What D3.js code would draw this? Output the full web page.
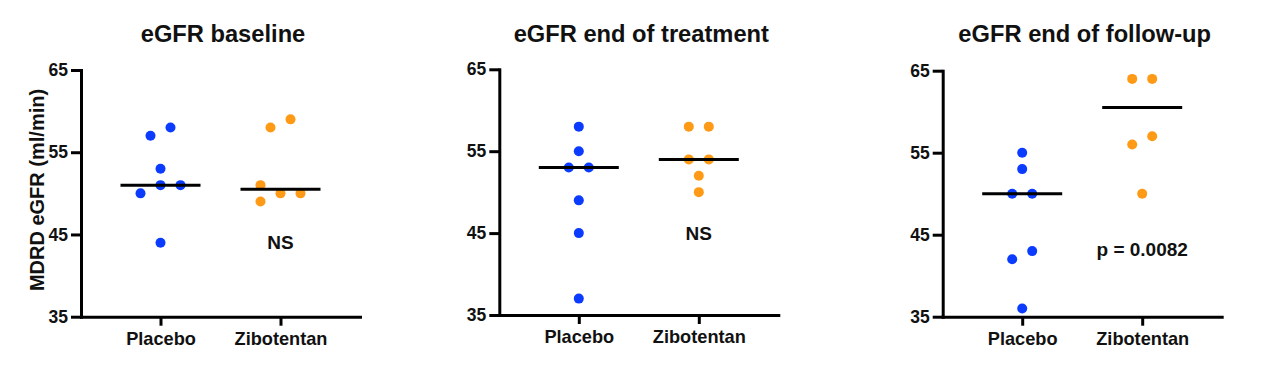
<!DOCTYPE html>
<html>
<head>
<meta charset="utf-8">
<script src="https://cdn.jsdelivr.net/npm/d3@7/dist/d3.min.js"></script>
<style>
  html, body { margin: 0; padding: 0; background: #ffffff; }
  svg { display: block; font-family: "Liberation Sans", Arial, Helvetica, sans-serif; }
</style>
</head>
<body>
<svg id="chart" width="1280" height="367"></svg>
<script>
// ---------------- data ----------------
const groups = ["Placebo", "Zibotentan"];
const panelTitles = ["eGFR baseline", "eGFR end of treatment", "eGFR end of follow-up"];
const yTicks = [35, 45, 55, 65];
const yDomain = [35, 65];
const yLabel = "MDRD eGFR (ml/min)";

const baselinePlacebo = [57, 58, 53, 50, 51, 51, 44];
const baselineZibotentan = [58, 59, 51, 50, 50, 49];
const treatmentPlacebo = [58, 55, 53, 53, 49, 45, 37];
const treatmentZibotentan = [58, 58, 54, 54, 52, 50];
const followupPlacebo = [55, 53, 50, 50, 42, 43, 36];
const followupZibotentan = [64, 64, 56, 57, 50];

const medianPlacebo = [51, 53, 50];
const medianZibotentan = [50.5, 54, 60.5];

const annotationText = ["NS", "NS", "p = 0.0082"];
const annotationValue = [44.0, 45.0, 43.2];

// ---------------- layout ----------------
const panelLeft = [81, 499.3, 942.7];
const panelTop = [70, 69.3, 70.7];
const panelBottom = [316.7, 315, 316.7];
const panelWidth = 279;
const dotR = 5;
const slot = 20;           // horizontal spacing between neighbouring dots
const medianHalf = 40;
const colors = { Placebo: "#0b3bff", Zibotentan: "#ff9a16" };

const panelData = [
  [baselinePlacebo, baselineZibotentan],
  [treatmentPlacebo, treatmentZibotentan],
  [followupPlacebo, followupZibotentan]
];
const medians = [
  [medianPlacebo[0], medianZibotentan[0]],
  [medianPlacebo[1], medianZibotentan[1]],
  [medianPlacebo[2], medianZibotentan[2]]
];

// scatter (column) layout: rows of colliding points spread symmetrically
function swarm(values, y) {
  const pts = values.map((v, i) => ({ v, i, py: y(v), dx: 0 }));
  const order = pts.slice().sort((a, b) => b.v - a.v || a.i - b.i);
  const placed = [];
  const used = new Set();
  const near = 10.5;
  for (const start of order) {
    if (used.has(start)) continue;
    const row = order.filter(p => !used.has(p) && Math.abs(p.py - start.py) < near);
    row.sort((a, b) => a.i - b.i);
    const n = row.length;
    const base = row.map((p, k) => (k - (n - 1) / 2) * slot);
    const shifts = [0, -slot, slot, -2 * slot, 2 * slot];
    let chosen = 0;
    for (const s of shifts) {
      const ok = row.every((p, k) => placed.every(q =>
        !(Math.abs(q.py - p.py) < near && Math.abs(q.dx - (base[k] + s)) < slot - 0.5)));
      if (ok) { chosen = s; break; }
    }
    row.forEach((p, k) => { p.dx = base[k] + chosen; used.add(p); placed.push(p); });
  }
  return pts;
}

const svg = d3.select("#chart");

// y-axis label
svg.append("text")
  .attr("transform", "translate(37,190) rotate(-90)")
  .attr("text-anchor", "middle")
  .attr("dominant-baseline", "central")
  .attr("font-size", 20)
  .attr("font-weight", "bold")
  .attr("fill", "#111")
  .text(yLabel);

panelData.forEach((pair, pi) => {
  const g = svg.append("g").attr("transform", `translate(${panelLeft[pi]},0)`);
  const y = d3.scaleLinear().domain(yDomain).range([panelBottom[pi], panelTop[pi]]);
  const x = d3.scalePoint().domain(groups).range([0, panelWidth]).padding(0.6625);

  // title
  g.append("text")
    .attr("x", panelWidth / 2 + 2.5)
    .attr("y", 41.5)
    .attr("text-anchor", "middle")
    .attr("font-size", 23.7)
    .attr("font-weight", "bold")
    .attr("fill", "#111")
    .text(panelTitles[pi]);

  // axes
  const yAxis = g.append("g")
    .call(d3.axisLeft(y).tickValues(yTicks).tickFormat(d3.format("d")).tickSize(10).tickSizeOuter(0).tickPadding(3));
  const xAxis = g.append("g")
    .attr("transform", `translate(0,${panelBottom[pi]})`)
    .call(d3.axisBottom(x).tickSize(9).tickSizeOuter(0).tickPadding(6));

  [yAxis, xAxis].forEach(a => {
    a.select(".domain").attr("stroke", "#000").attr("stroke-width", 3).attr("stroke-linecap", "square");
    a.selectAll(".tick line").attr("stroke", "#000").attr("stroke-width", 3);
    a.selectAll(".tick text").attr("fill", "#111").attr("font-weight", "bold")
      .attr("font-family", '"Liberation Sans", Arial, sans-serif');
  });
  yAxis.selectAll(".tick text").attr("font-size", 17.5);
  xAxis.selectAll(".tick text").attr("font-size", 18.2);

  // points
  pair.forEach((vals, gi) => {
    const grp = groups[gi];
    const pts = swarm(vals, y);
    g.append("g").selectAll("circle")
      .data(pts)
      .join("circle")
      .attr("cx", d => x(grp) + d.dx)
      .attr("cy", d => d.py)
      .attr("r", dotR)
      .attr("fill", colors[grp]);

    // median line
    g.append("line")
      .attr("x1", x(grp) - medianHalf)
      .attr("x2", x(grp) + medianHalf)
      .attr("y1", y(medians[pi][gi]))
      .attr("y2", y(medians[pi][gi]))
      .attr("stroke", "#000")
      .attr("stroke-width", 3);
  });

  // annotation
  g.append("text")
    .attr("x", x(groups[1]))
    .attr("y", y(annotationValue[pi]))
    .attr("text-anchor", "middle")
    .attr("dominant-baseline", "central")
    .attr("font-size", 19)
    .attr("font-weight", "bold")
    .attr("fill", "#111")
    .text(annotationText[pi]);
});
</script>
</body>
</html>
